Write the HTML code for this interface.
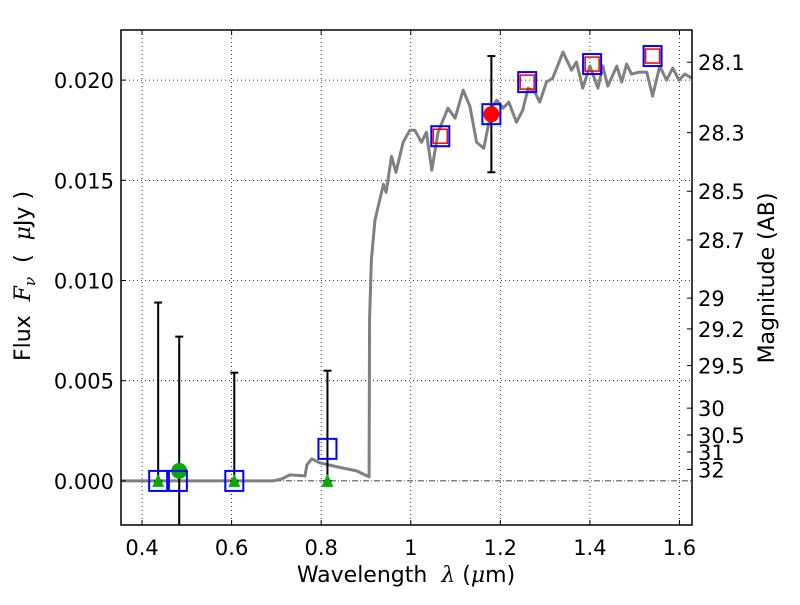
<!DOCTYPE html>
<html><head><meta charset="utf-8"><style>
body{margin:0;background:#fff}
svg text{font-family:"DejaVu Sans","Liberation Sans",sans-serif;fill:#000;white-space:pre}
</style></head><body>
<svg id="chart" width="800" height="600" xmlns="http://www.w3.org/2000/svg">
<rect width="800" height="600" fill="#fff"/>
<g id="grid"></g><g id="marks"></g><g id="axes"></g>
<text x="406" y="582" font-size="22" text-anchor="middle">Wavelength  <tspan font-family="DejaVu Serif" font-style="italic">λ</tspan> (<tspan font-family="DejaVu Serif" font-style="italic">μ</tspan>m)</text>
<text transform="translate(30,276) rotate(-90)" font-size="22" text-anchor="middle">Flux  <tspan font-family="DejaVu Serif" font-style="italic">F</tspan><tspan font-family="DejaVu Serif" font-style="italic" font-size="15" dy="5">ν</tspan><tspan dy="-5">  (  </tspan><tspan font-family="DejaVu Serif" font-style="italic">μ</tspan>Jy )</text>
<text transform="translate(774,278) rotate(-90)" font-size="22" text-anchor="middle">Magnitude (AB)</text>
</svg>
<script>
const xTicks=[0.4,0.6,0.8,1.0,1.2,1.4,1.6];
const xTickLabels=["0.4","0.6","0.8","1","1.2","1.4","1.6"];
const yTicks=[0,0.005,0.01,0.015,0.02];
const yTickLabels=["0.000","0.005","0.010","0.015","0.020"];
const magTicks=[28.1,28.3,28.5,28.7,29,29.2,29.5,30,30.5,31,32];
const specLam=[0.353,0.692,0.712,0.730,0.764,0.768,0.779,0.797,0.826,0.857,0.879,0.907,0.908,0.912,0.920,0.939,0.945,0.957,0.967,0.983,0.998,1.009,1.024,1.035,1.047,1.061,1.083,1.099,1.117,1.132,1.147,1.163,1.181,1.192,1.206,1.219,1.236,1.250,1.262,1.277,1.288,1.303,1.317,1.340,1.359,1.370,1.384,1.400,1.418,1.429,1.440,1.460,1.471,1.482,1.493,1.511,1.527,1.540,1.556,1.571,1.585,1.599,1.612,1.627];
const specFlux=[0,0,0.0001,0.0003,0.00025,0.0008,0.0011,0.0009,0.00075,0.0006,0.0005,0.0002,0.008,0.011,0.013,0.0148,0.0144,0.0162,0.0154,0.0169,0.0175,0.0175,0.0169,0.0174,0.0155,0.0174,0.0186,0.0181,0.0195,0.0187,0.0169,0.0166,0.0186,0.019,0.0186,0.0189,0.0179,0.0185,0.0196,0.0194,0.0189,0.0199,0.0201,0.0214,0.0205,0.0209,0.0196,0.0207,0.0196,0.0207,0.0197,0.0207,0.0199,0.0208,0.0203,0.0204,0.0204,0.0192,0.0207,0.0200,0.0206,0.0200,0.0203,0.0201];
const obsLam=[0.436,0.48,0.606,0.814,1.066,1.18,1.26,1.405,1.54];
const obsFlux=[0,0,0,0.0016,0.0172,0.0183,0.0199,0.0208,0.0212];
const modelLam=[1.066,1.26,1.405,1.54];
const modelFlux=[0.0172,0.0199,0.0208,0.0212];
const triLam=[0.436,0.606,0.814];
const triFlux=[0,0,0];
const greenDotLam=[0.483];const greenDotFlux=[0.0005];
const redDotLam=[1.18];const redDotFlux=[0.0183];
const errLam=[0.436,0.483,0.606,0.814,1.18];
const errLo=[0,-0.01,0,0,0.0154];
const errHi=[0.0089,0.0072,0.0054,0.0055,0.0212];
const X0=121,X1=692,Y0=30,Y1=525;
const xmin=0.353,xmax=1.628,ymin=-0.0022,ymax=0.0225;
const X=v=>X0+(v-xmin)/(xmax-xmin)*(X1-X0);
const Y=v=>Y1-(v-ymin)/(ymax-ymin)*(Y1-Y0);
const NS="http://www.w3.org/2000/svg";
function mk(p,t,a){const e=document.createElementNS(NS,t);for(const k in a)e.setAttribute(k,a[k]);p.appendChild(e);return e;}
const grid=document.getElementById('grid'),marks=document.getElementById('marks'),axes=document.getElementById('axes');
xTicks.forEach((t,i)=>{const g=mk(grid,'line',{x1:X(t),x2:X(t),y1:Y0,y2:Y1,stroke:'#000','stroke-width':0.8,'stroke-dasharray':'1,3'});

const tx=mk(axes,'text',{x:X(t),y:Y1+30,'font-size':21,'text-anchor':'middle'});tx.textContent=xTickLabels[i];

mk(axes,'line',{x1:X(t),x2:X(t),y1:Y1,y2:Y1-5,stroke:'#000'});mk(axes,'line',{x1:X(t),x2:X(t),y1:Y0,y2:Y0+5,stroke:'#000'});});
yTicks.forEach((t,i)=>{if(t!==0){const g=mk(grid,'line',{x1:X0,x2:X1,y1:Y(t),y2:Y(t),stroke:'#000','stroke-width':0.8,'stroke-dasharray':'1,3'});
}
const tx=mk(axes,'text',{x:X0-7,y:Y(t)+8,'font-size':21,'text-anchor':'end'});tx.textContent=yTickLabels[i];

mk(axes,'line',{x1:X0,x2:X0+5,y1:Y(t),y2:Y(t),stroke:'#000'});});
magTicks.forEach(m=>{const f=Math.pow(10,(23.9-m)/2.5);const y=Y(f);
mk(axes,'line',{x1:X1,x2:X1-5,y1:y,y2:y,stroke:'#000'});
const tx=mk(axes,'text',{x:X1+6,y:y+8,'font-size':21});tx.textContent=String(m);
});
const zl=mk(marks,'line',{x1:X0,x2:X1,y1:Y(0),y2:Y(0),stroke:'#000','stroke-width':0.8,'stroke-dasharray':'6,2,1,2'});

const sp=mk(marks,'polyline',{points:specLam.map((l,i)=>X(l)+','+Y(specFlux[i])).join(' '),fill:'none',stroke:'#808080','stroke-width':3,'stroke-linejoin':'round'});

errLam.forEach((l,i)=>{const x=X(l),ya=Y(errHi[i]),yb=Math.min(Y(errLo[i]),Y1);
const e=mk(marks,'line',{x1:x,x2:x,y1:ya,y2:yb,stroke:'#000','stroke-width':2});

mk(marks,'line',{x1:x-4,x2:x+4,y1:ya,y2:ya,stroke:'#000','stroke-width':2});
if(Y(errLo[i])<Y1)mk(marks,'line',{x1:x-4,x2:x+4,y1:yb,y2:yb,stroke:'#000','stroke-width':2});});
triLam.forEach((l,i)=>{const x=X(l),y=Y(triFlux[i]);
const t=mk(marks,'polygon',{points:`${x},${y-7} ${x-6},${y+6} ${x+6},${y+6}`,fill:'#00aa00'});
});
greenDotLam.forEach((l,i)=>{const c=mk(marks,'circle',{cx:X(l),cy:Y(greenDotFlux[i]),r:8,fill:'#00aa00'});
});
redDotLam.forEach((l,i)=>{const c=mk(marks,'circle',{cx:X(l),cy:Y(redDotFlux[i]),r:8,fill:'#ff0000'});
});
modelLam.forEach((l,i)=>{const r=mk(marks,'rect',{x:X(l)-7,y:Y(modelFlux[i])-7,width:14,height:14,fill:'none',stroke:'#ff0000','stroke-width':1.5});
});
obsLam.forEach((l,i)=>{const r=mk(marks,'rect',{x:X(l)-9,y:Y(obsFlux[i])-10,width:18,height:20,fill:'none',stroke:'#0000ff','stroke-width':2});
});
const fr=mk(axes,'rect',{x:X0,y:Y0,width:X1-X0,height:Y1-Y0,fill:'none',stroke:'#000','stroke-width':1.5});

</script>
</body></html>
